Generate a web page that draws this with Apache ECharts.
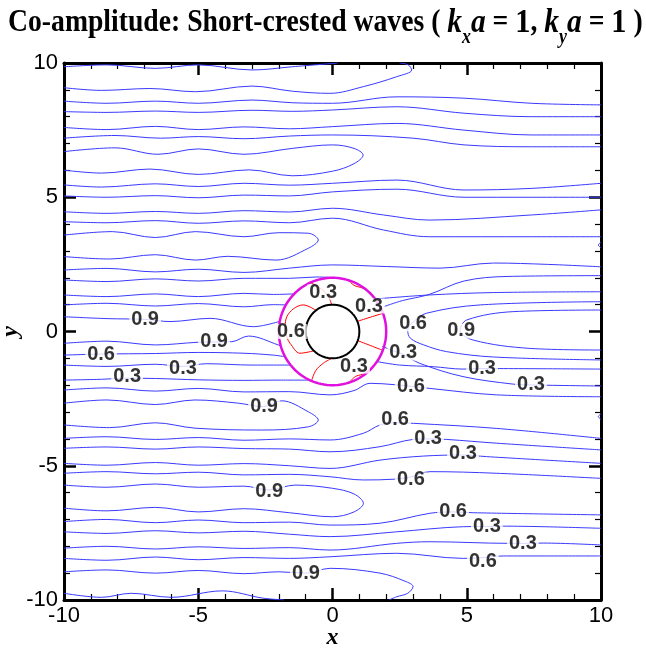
<!DOCTYPE html>
<html>
<head>
<meta charset="utf-8">
<script src="https://cdn.jsdelivr.net/npm/echarts@6/dist/echarts.min.js"></script>
<style>
html,body{margin:0;padding:0;background:#fff}
#chart{width:646px;height:650px}
</style>
</head>
<body>
<div id="chart"></div>
<script>
// axis ticks
const xTicks = [-10, -5, 0, 5, 10]
const yTicks = [-10, -5, 0, 5, 10]

// cylinder and matching ring radius
const cylinderR = 1
const ringR = 2

// blue contours outside the ring, [x, y] (top to bottom)
const b01 = [[-10,9.86],[-8.4,9.93],[-6.6,9.8],[-5,9.93],[-3,9.74],[-1.5,9.86],[0.2,10]]
const b02 = [[-10,9.08],[-8.6,8.98],[-6.8,9.05],[-5.1,8.93],[-3,9.14],[-1.5,8.95],[-0.1,8.87],[1.15,9.12],[2.39,9.49],[2.95,9.74],[2.82,9.93],[2.5,10]]
const b03 = [[-10,8.58],[-8.4,8.5],[-6.6,8.58],[-5,8.5],[-3,8.62],[-1.5,8.52],[0,8.5],[2.4,8.74],[4.9,8.69],[7.4,8.5],[10,8.44]]
const b04 = [[-10,8.19],[-8.4,8.16],[-6.6,8.21],[-5,8.16],[-3,8.24],[-1.5,8.2],[0,8.25],[2.4,8.37],[4.9,8.13],[7.4,8.0],[10,8.0]]
const b05 = [[-10,7.6],[-8.4,7.52],[-6.6,7.64],[-5,7.52],[-3.3,7.62],[-1.6,7.55],[0,7.63],[2.4,7.75],[4.9,7.5],[7.4,7.32],[10,7.32]]
const b06 = [[-10,7.2],[-8.1,7.3],[-6.4,7.2],[-5,7.26],[-3.3,7.18],[-1.6,7.28],[0,7.32],[3,7.2],[4.9,6.95],[7.4,6.88],[10,6.88]]
const b07 = [[-10,6.7],[-8.1,6.84],[-6.5,6.6],[-5,6.8],[-3.3,6.6],[-1.5,6.82],[0,6.95],[0.8,6.82],[1.14,6.57],[0.8,6.25],[0,5.97],[-1.5,5.8],[-3.1,6.02],[-5,5.85],[-6.8,6.05],[-8.6,5.9],[-10,6.01]]
const b08 = [[-10,5.46],[-8.6,5.38],[-6.6,5.5],[-5,5.4],[-3.3,5.52],[-1.6,5.45],[0,5.52],[2.4,5.64],[4.9,5.27],[7.4,5.33],[10,5.52]]
const b09 = [[-10,5.05],[-8.4,5.0],[-6.6,5.06],[-5,4.98],[-3.3,5.08],[-1.6,5.05],[0,5.2],[2.4,5.3],[4.9,5.0],[7.4,5.0],[10,5.0]]
const b10 = [[-10,4.46],[-8.4,4.4],[-6.6,4.47],[-5,4.4],[-3.3,4.5],[-1.6,4.45],[0,4.59],[1.9,4.34],[3.6,4.15],[7.4,4.34],[10,4.53]]
const b11 = [[-10,4.09],[-8.4,4.05],[-6.6,4.13],[-5,4.03],[-3.3,4.12],[-1.6,4.05],[0,4.22],[1.9,3.78],[3.6,3.53],[7.4,3.53],[10,3.53]]
const b12 = [[-10,3.59],[-8.2,3.72],[-6.6,3.5],[-5.1,3.72],[-3.3,3.53],[-2,3.68],[-0.9,3.66],[-0.53,3.41],[-0.9,3.1],[-2.1,2.66],[-3.9,2.8],[-5.1,2.66],[-6.6,2.86],[-8.3,2.7],[-10,2.79]]
const b13 = [[-10,2.29],[-8.4,2.35],[-6.6,2.22],[-5,2.32],[-3.3,2.2],[-1.6,2.36],[0,2.48],[2,2.42],[4,2.36],[6,2.55],[8,2.5],[10,2.41]]
const b14 = [[-10,1.92],[-8.4,1.86],[-6.6,1.96],[-5,1.88],[-3.3,1.98],[-1.6,1.98],[-0.6,2.03],[0.2,2.0]]
const b15 = [[-10,1.36],[-8.4,1.3],[-6.6,1.4],[-5,1.3],[-3.3,1.42],[-2.2,1.38],[-1.45,1.4]]
const b16 = [[-10,0.99],[-8.4,1.05],[-6.6,0.95],[-5,1.04],[-3.3,0.92],[-2.2,1.0],[-1.74,0.99]]
const b17 = [[-10,0.55],[-8.4,0.48],[-6.98,0.45],[-6.05,0.37],[-4.56,0.49],[-2.95,0.18],[-1.96,0.38]]
const b18 = [[-10,-0.44],[-8.4,-0.36],[-6.6,-0.5],[-5,-0.4],[-4.4,-0.39],[-3.75,-0.38],[-3.13,-0.17],[-2.02,-0.5],[-1.92,-0.57]]
const b19 = [[-10,-0.88],[-8.6,-0.84],[-6.6,-0.82],[-5,-0.78],[-3.3,-0.81],[-2.2,-0.88],[-1.77,-0.94]]
const b20 = [[-10,-1.25],[-8.4,-1.3],[-6.6,-1.22],[-5.57,-1.3],[-4.7,-1.2],[-3,-1.25],[-1.56,-1.25]]
const b21 = [[-10,-1.81],[-8.6,-1.78],[-7.65,-1.74],[-6.6,-1.75],[-5,-1.8],[-3.3,-1.82],[-1.9,-1.81],[-0.86,-1.81]]
const b22 = [[-10,-2.18],[-8.4,-2.1],[-6.6,-2.22],[-5,-2.12],[-3.3,-2.25],[-1.6,-2.24],[-0.09,-2.36],[0.8,-2.2],[1.4,-1.93],[2.3,-1.98],[3.63,-2.12],[6.12,-2.36],[10,-2.43]]
const b23 = [[-10,-2.67],[-8.4,-2.55],[-6.6,-2.72],[-5.12,-2.55],[-3.5,-2.67],[-2.58,-2.8],[-1.9,-2.58],[-0.9,-2.99],[-0.53,-3.3],[-0.9,-3.55],[-2.64,-3.67],[-5.12,-3.6],[-6.6,-3.4],[-8.3,-3.58],[-10,-3.48]]
const b24 = [[-10,-3.98],[-8.4,-3.92],[-6.6,-4.02],[-5,-3.95],[-3.3,-4.05],[-1.6,-4.0],[-0.09,-4.04],[1.15,-3.79],[1.77,-3.48],[2.33,-3.4],[3.01,-3.42],[6.12,-3.61],[10,-3.98]]
const b25 = [[-10,-4.35],[-8.4,-4.3],[-6.6,-4.38],[-5,-4.3],[-3.3,-4.36],[-1.6,-4.38],[-0.09,-4.48],[1.77,-4.29],[3.0,-4.02],[3.56,-4.0],[4.25,-4.02],[6.12,-4.16],[10,-4.41]]
const b26 = [[-10,-4.91],[-8.4,-4.98],[-6.6,-4.88],[-5,-4.98],[-3.3,-4.92],[-1.6,-5.0],[-0.09,-5.1],[1.77,-4.79],[3.38,-4.64],[4.86,-4.6],[5.74,-4.66],[10,-4.91]]
const b27 = [[-10,-5.28],[-8.4,-5.22],[-6.6,-5.3],[-5,-5.24],[-3.3,-5.34],[-1.6,-5.32],[-0.09,-5.41],[1.15,-5.53],[2.3,-5.5],[2.9,-5.42],[3.63,-5.22],[6.12,-5.28],[10,-5.47]]
const b28 = [[-10,-5.72],[-8.4,-5.8],[-6.6,-5.68],[-5,-5.8],[-3.3,-5.76],[-2.36,-5.9],[-1.4,-5.72],[0,-5.84],[0.8,-6.05],[1.15,-6.4],[0.8,-6.72],[0,-6.9],[-1.6,-6.75],[-3.3,-6.6],[-5,-6.72],[-6.6,-6.55],[-8.4,-6.68],[-10,-6.58]]
const b29 = [[-10,-7.08],[-8.4,-7.0],[-6.6,-7.12],[-5,-7.02],[-3.3,-7.12],[-1.6,-7.1],[-0.09,-7.21],[1.77,-7.14],[3.63,-6.77],[4.49,-6.72],[5.24,-6.75],[10,-6.83]]
const b30 = [[-10,-7.46],[-8.4,-7.52],[-6.6,-7.42],[-5,-7.5],[-3.3,-7.44],[-1.6,-7.55],[-0.09,-7.64],[2.39,-7.46],[4.87,-7.27],[5.75,-7.26],[6.36,-7.25],[10,-7.33]]
const b31 = [[-10,-8.07],[-8.4,-8.0],[-6.6,-8.1],[-5,-8.02],[-3.3,-8.08],[-1.6,-8.05],[-0.09,-8.14],[2.39,-7.89],[3.63,-7.83],[6.61,-7.89],[7.09,-7.89],[7.85,-7.88],[10,-7.95]]
const b32 = [[-10,-8.45],[-8.4,-8.52],[-6.6,-8.4],[-5,-8.5],[-3.3,-8.42],[-1.6,-8.45],[-0.09,-8.39],[2.39,-8.26],[4.87,-8.45],[5.6,-8.42],[6.36,-8.36],[10,-8.36]]
const b33 = [[-10,-8.95],[-8.4,-8.88],[-6.6,-9.0],[-5,-8.9],[-3.3,-9.02],[-2,-8.95],[-0.99,-9.0],[-0.09,-8.82],[1.77,-9.0],[2.7,-9.3],[3.0,-9.5],[2.8,-9.75],[2.39,-9.88],[2.1,-10]]
const b34 = [[-10,-9.75],[-8.6,-9.9],[-7.5,-9.75],[-6,-9.9],[-4.1,-9.66],[-2.6,-9.93],[-1.8,-10]]
// blue contours that start on the right side of the ring
const b35 = [[1.7,1.22],[3.6,1.36],[6,1.45],[10,1.48]]
const b36 = [[1.9,0.92],[2.6,1.15],[3.6,1.38],[4.9,1.88],[6.5,2.05],[10,2.08]]
const b37 = [[10,1.11],[5.5,0.99],[3.5,0.68],[3.0,0.35],[2.8,0.05],[2.9,-0.25],[3.4,-0.5],[4.25,-0.75],[6,-0.95],[10,-1.06]]
const b38 = [[10,0.8],[6.73,0.74],[5.0,0.43],[4.75,0.05],[5.24,-0.32],[7.36,-0.63],[10,-0.69]]
const b39 = [[1.65,-1.12],[2.5,-1.25],[3.75,-1.31],[4.86,-1.4],[5.57,-1.38],[10,-1.4]]
const b40 = [[1.85,-0.55],[2.26,-0.72],[2.63,-0.85],[3.26,-1.19],[4.86,-1.68],[6.73,-1.96],[7.39,-1.99],[10,-2.03]]
const b41 = [[10,3.32],[9.9,3.22],[10,3.12]]
const b42 = [[10,-3.07],[9.9,-3.17],[10,-3.27]]

// red contours inside the ring
const r01 = [[-0.62,0.79],[-1.09,0.99],[-1.45,0.85],[-1.7,0.55],[-1.76,0.2],[-1.7,-0.2],[-1.58,-0.44],[-1.21,-0.81],[-0.7,-0.72]]
const r02 = [[-0.84,1.82],[-0.55,1.68],[-0.3,1.48],[-0.14,1.28],[-0.03,1.0]]
const r03 = [[0.6,1.91],[0.8,1.72],[1.05,1.64],[1.25,1.56]]
const r04 = [[0.93,0.38],[1.88,0.68]]
const r05 = [[0.94,-0.34],[1.87,-0.7]]
const r06 = [[-0.03,-1.0],[-0.34,-1.18],[-0.62,-1.45],[-0.78,-1.84]]
const r07 = [[0.62,-1.9],[0.85,-1.68],[1.1,-1.6],[1.3,-1.52]]

// contour level labels [x, y, text]
const levelLabels = [
  [-0.35,1.47,'0.3'],[1.36,0.95,'0.3'],[-1.55,0.0,'0.6'],[0.8,-1.29,'0.3'],
  [-6.98,0.45,'0.9'],[-4.41,-0.39,'0.9'],[-8.62,-0.84,'0.6'],[-5.57,-1.36,'0.3'],[-7.65,-1.69,'0.3'],
  [3.0,0.28,'0.6'],[4.79,0.02,'0.9'],[2.63,-0.8,'0.3'],[5.57,-1.36,'0.3'],[2.92,-2.03,'0.6'],[7.39,-1.99,'0.3'],
  [-2.55,-2.81,'0.9'],[2.33,-3.26,'0.6'],[3.56,-4.0,'0.3'],[4.86,-4.53,'0.3'],[2.92,-5.53,'0.6'],
  [-2.36,-5.94,'0.9'],[4.49,-6.72,'0.6'],[5.75,-7.25,'0.3'],[7.09,-7.88,'0.3'],[5.6,-8.55,'0.6'],[-0.99,-9.0,'0.9']
]

const blueLines = [b01,b02,b03,b04,b05,b06,b07,b08,b09,b10,b11,b12,b13,b14,b15,b16,b17,b18,b19,b20,
  b21,b22,b23,b24,b25,b26,b27,b28,b29,b30,b31,b32,b33,b34,b35,b36,b37,b38,b39,b40,b41,b42]
const redLines = [r01,r02,r03,r04,r05,r06,r07]

function circle(r) {
  const pts = []
  for (let i = 0; i <= 120; i++) {
    const t = i / 120 * Math.PI * 2
    pts.push([r * Math.cos(t), r * Math.sin(t)])
  }
  return pts
}

const chart = echarts.init(document.getElementById('chart'))

const series = []
blueLines.forEach(d => series.push({
  type: 'line', data: d, smooth: 0.35, showSymbol: false, silent: true,
  lineStyle: { color: '#3a3aff', width: 1 }, z: 2
}))
redLines.forEach(d => series.push({
  type: 'line', data: d, smooth: 0.35, showSymbol: false, silent: true,
  lineStyle: { color: '#ff0000', width: 1 }, z: 3
}))
series.push({
  type: 'line', data: circle(ringR), showSymbol: false, silent: true,
  lineStyle: { color: '#e010e0', width: 2.5 }, z: 4
})
series.push({
  type: 'line', data: circle(cylinderR), showSymbol: false, silent: true,
  lineStyle: { color: '#000', width: 2 }, z: 4
})
series.push({
  type: 'scatter', data: levelLabels, symbolSize: 0, silent: true, z: 6,
  label: {
    show: true, position: 'inside', formatter: p => p.data[2],
    fontFamily: 'Liberation Sans', fontWeight: 'bold', fontSize: 20, color: '#000',
    backgroundColor: '#fff', padding: [0, 2], lineHeight: 15
  }
})

const tickLabel = { fontFamily: 'Liberation Sans', fontSize: 22, color: '#000' }
const axisBase = {
  type: 'value', min: -10, max: 10, interval: 5,
  axisLine: { onZero: false, lineStyle: { color: '#000', width: 3 } },
  axisTick: { inside: true, length: 12, lineStyle: { color: '#000', width: 2.5 } },
  minorTick: { show: true, splitNumber: 5, length: 6, lineStyle: { color: '#000', width: 1.2 } },
  splitLine: { show: false }
}

chart.setOption({
  animation: false,
  backgroundColor: '#fff',
  graphic: [{
    type: 'text', x: 8, y: 6, scaleX: 0.893, scaleY: 1,
    style: {
      text: '{n|Co-amplitude: Short-crested waves ( }{i|k}{s|x}{i|a}{n| = }{b|1}{n|, }{i|k}{s|y}{i|a}{n| = }{b|1}{n| )}',
      fill: '#000',
      rich: {
        n: { fontFamily: 'Liberation Serif', fontWeight: 'bold', fontSize: 31, lineHeight: 34, verticalAlign: 'middle' },
        b: { fontFamily: 'Liberation Serif', fontWeight: 'bold', fontSize: 34, lineHeight: 34, verticalAlign: 'middle' },
        i: { fontFamily: 'Liberation Serif', fontWeight: 'bold', fontStyle: 'italic', fontSize: 33, lineHeight: 34, verticalAlign: 'middle' },
        s: { fontFamily: 'Liberation Serif', fontWeight: 'bold', fontStyle: 'italic', fontSize: 20, lineHeight: 18, verticalAlign: 'bottom', padding: [0, 0, -8, 0] }
      }
    }
  }],
  grid: { left: 64, right: 45, top: 63, bottom: 50, containLabel: false, outerBoundsMode: 'none' },
  xAxis: [
    Object.assign({}, axisBase, {
      position: 'bottom',
      name: 'x', nameLocation: 'middle', nameGap: 26, nameMoveOverlap: false,
      nameTextStyle: { fontFamily: 'Liberation Serif', fontWeight: 'bold', fontStyle: 'italic', fontSize: 24, color: '#000' },
      axisLabel: Object.assign({ margin: 5, customValues: xTicks }, tickLabel)
    }),
    Object.assign({}, axisBase, { position: 'top', axisLabel: { show: false } })
  ],
  yAxis: [
    Object.assign({}, axisBase, {
      position: 'left',
      name: 'y', nameLocation: 'middle', nameGap: 41, nameMoveOverlap: false,
      nameTextStyle: { fontFamily: 'Liberation Serif', fontWeight: 'bold', fontStyle: 'italic', fontSize: 24, color: '#000' },
      nameRotate: 90,
      axisLabel: Object.assign({ margin: 6, customValues: yTicks }, tickLabel)
    }),
    Object.assign({}, axisBase, { position: 'right', axisLabel: { show: false } })
  ],
  series: series
})
</script>
</body>
</html>
